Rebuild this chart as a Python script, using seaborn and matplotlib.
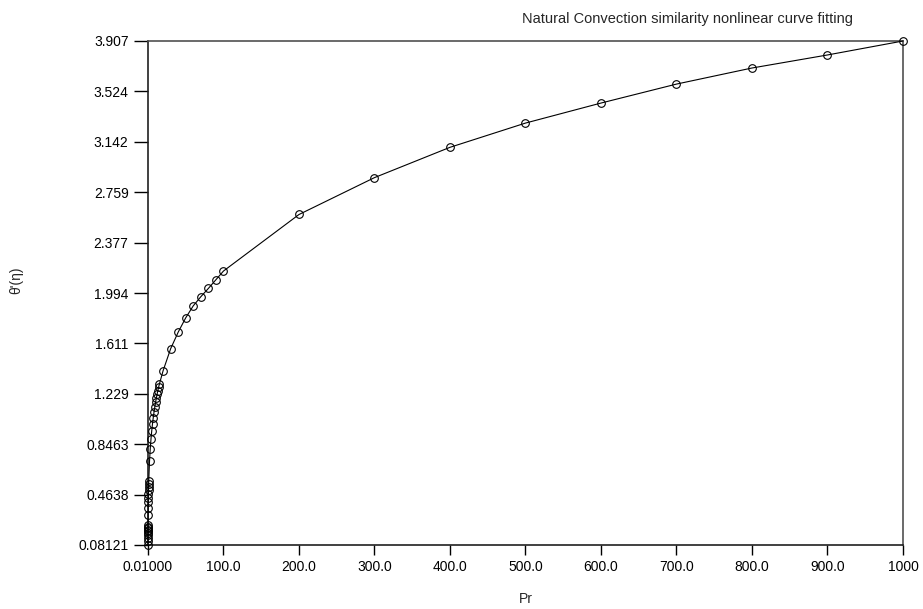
import matplotlib
matplotlib.use("Agg")
import matplotlib.pyplot as plt
import seaborn as sns
import pandas as pd

# Prandtl numbers
pr = [0.01, 0.02, 0.03, 0.04, 0.05, 0.06, 0.07, 0.08, 0.09, 0.1,
      0.2, 0.3, 0.4, 0.5, 0.6, 0.7, 0.8, 0.9,
      1, 2, 3, 4, 5, 6, 7, 8, 9, 10, 11, 12, 13, 14, 15,
      20, 30, 40, 50, 60, 70, 80, 90, 100,
      200, 300, 400, 500, 600, 700, 800, 900, 1000]
# wall temperature gradient theta'(eta)
theta = [0.0812, 0.112, 0.135, 0.154, 0.170, 0.184, 0.197, 0.209, 0.220, 0.230,
         0.308, 0.362, 0.405, 0.441, 0.472, 0.499, 0.524, 0.546,
         0.567, 0.716, 0.813, 0.888, 0.950, 1.003, 1.049, 1.091, 1.128, 1.163,
         1.195, 1.224, 1.252, 1.277, 1.301,
         1.404, 1.571, 1.697, 1.806, 1.897, 1.966, 2.029, 2.095, 2.161,
         2.590, 2.870, 3.100, 3.284, 3.436, 3.580, 3.702, 3.801, 3.907]

x_ticks = [0.01, 100, 200, 300, 400, 500, 600, 700, 800, 900, 1000]
x_tick_labels = ["0.01000", "100.0", "200.0", "300.0", "400.0", "500.0",
                 "600.0", "700.0", "800.0", "900.0", "1000"]
y_ticks = [0.08121, 0.4638, 0.8463, 1.229, 1.611, 1.994, 2.377, 2.759, 3.142, 3.524, 3.907]
y_tick_labels = ["0.08121", "0.4638", "0.8463", "1.229", "1.611", "1.994",
                 "2.377", "2.759", "3.142", "3.524", "3.907"]

title = "Natural Convection similarity nonlinear curve fitting"

sns.set_style("ticks")
plt.rcParams["font.family"] = ["Liberation Sans", "DejaVu Sans"]

df = pd.DataFrame({"Pr": pr, "theta": theta})

fig = plt.figure(figsize=(9.23, 6.09), dpi=100)
ax = fig.add_axes([148 / 923, 1 - 545 / 609, (903 - 148) / 923, (545 - 41) / 609])

sns.lineplot(data=df, x="Pr", y="theta", ax=ax, color="black", linewidth=0.8,
             marker="o", markersize=5.5, markerfacecolor="none",
             markeredgecolor="black", markeredgewidth=0.8, sort=False,
             clip_on=False, zorder=5)

ax.set_xlim(x_ticks[0], x_ticks[-1])
ax.set_ylim(y_ticks[0], y_ticks[-1])
ax.set_xticks(x_ticks)
ax.set_xticklabels(x_tick_labels)
ax.set_yticks(y_ticks)
ax.set_yticklabels(y_tick_labels)
ax.tick_params(axis="x", direction="out", length=7, width=1, pad=4,
               labelsize=10, colors="black")
ax.tick_params(axis="y", direction="out", length=10, width=1, pad=4,
               labelsize=10, colors="black")
ax.set_xlabel("")
ax.set_ylabel("")
for name, s in ax.spines.items():
    s.set_visible(True)
    s.set_linewidth(1.2)
    s.set_color("#202020" if name in ("left", "bottom") else "#505050")

fig.text(688 / 923, 1 - 19 / 609, title, ha="center", va="center", fontsize=10.5)
fig.text(16 / 923, 1 - 280 / 609, "θ'(η)", ha="center", va="center",
         rotation=90, fontsize=10)
fig.text(526 / 923, 1 - 599 / 609, "Pr", ha="center", va="center", fontsize=10)

fig.savefig("out.png", dpi=100)
